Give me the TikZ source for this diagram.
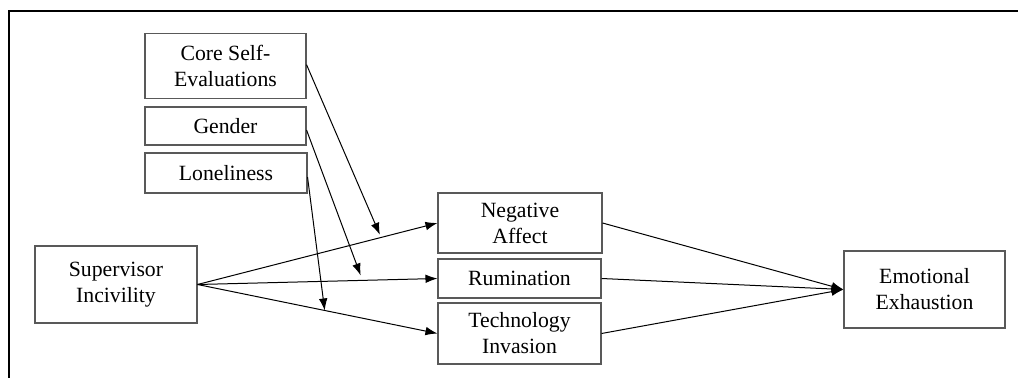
\documentclass[tikz,border=0pt]{standalone}
\usepackage{fontspec}
\setmainfont{Liberation Serif}
\usepackage{tikz}
\usetikzlibrary{calc, positioning, arrows.meta}

\tikzset{
    varbox/.style={draw=black!65, line width=0.8pt, align=center, inner sep=0pt,
        font=\fontsize{16.3}{19.5}\selectfont},
    path/.style={draw, line width=0.75pt, -{Latex[length=9pt, width=6.5pt]}},
}

\begin{document}
\begin{tikzpicture}[x=0.75pt, y=-0.75pt]
            \useasboundingbox (0,0) rectangle (1018,378);
            % frame
            \draw[line width=1.4pt] (9,378) -- (9,11) -- (1018,11);

            % moderators
            \node[varbox, minimum width=120.75pt, minimum height=48.75pt] (cse) at (225.5,66) {Core Self-\\Evaluations};
            \node[varbox, minimum width=120.75pt, minimum height=28.5pt] (gender) at (225.5,126) {Gender};
            \node[varbox, minimum width=121.5pt, minimum height=30pt] (lonely) at (226,173) {Loneliness};

            % predictor, mediators, outcome
            \node[varbox, minimum width=121.5pt, minimum height=57.75pt] (incivility) at (116,284.5) {Supervisor\\Incivility};
            \node[varbox, minimum width=123pt, minimum height=45pt] (negaffect) at (520,223) {Negative\\Affect};
            \node[varbox, minimum width=122.25pt, minimum height=29.25pt] (rumination) at (519.5,278.5) {Rumination};
            \node[varbox, minimum width=122.25pt, minimum height=45.75pt] (invasion) at (519.5,333.5) {Technology\\Invasion};
            \node[varbox, minimum width=120.75pt, minimum height=57.75pt] (exhaustion) at (924.5,289.5) {Emotional\\Exhaustion};

            \foreach \m in {negaffect, rumination, invasion} {
                \draw[path] (incivility.east) -- (\m.west);
                \draw[path] (\m.east) -- (exhaustion.west);
            };

            % where the moderators meet the paths
            \coordinate (modA) at ($(incivility.east)!0.76!(negaffect.west)+(0,-3)$);
            \coordinate (modB) at ($(incivility.east)!0.68!(rumination.west)+(0,-5)$);
            \coordinate (modC) at ($(incivility.east)!0.53!(invasion.west)$);

            \draw[path] ([yshift=1pt]cse.east) -- (modA);
            \draw[path] ([yshift=-3pt]gender.east) -- (modB);
            \draw[path] ([yshift=-3pt]lonely.east) -- (modC);
        \end{tikzpicture}
\end{document}
